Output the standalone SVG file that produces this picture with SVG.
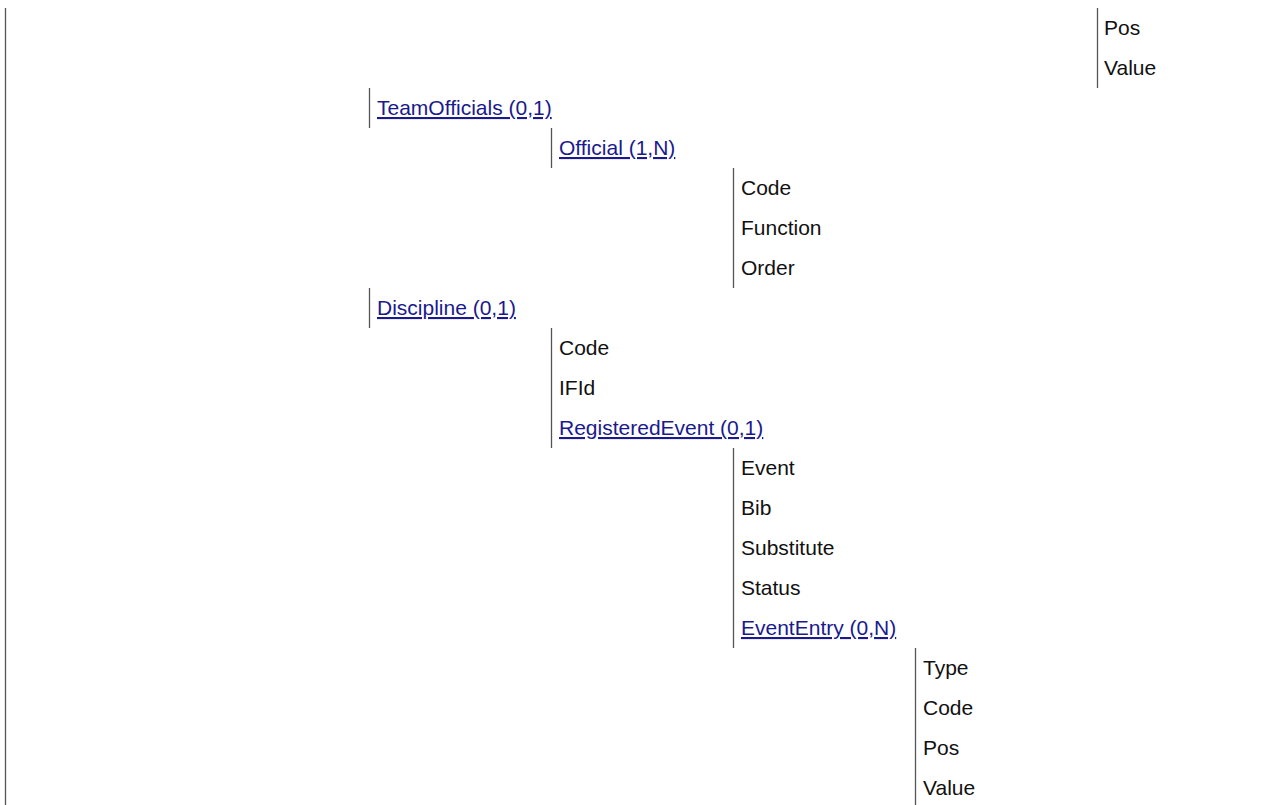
<svg xmlns="http://www.w3.org/2000/svg" width="1276" height="805" viewBox="0 0 1276 805">
<style>
  text { font-family: "Liberation Sans", Arial, sans-serif; font-size: 21px; fill: #111; }
  text.link { fill: #1a1a8e; text-decoration: underline; }
  line.bar { stroke: #555555; stroke-width: 1.3; }
</style>
<rect width="1276" height="805" fill="#ffffff"/>
<g id="connectors">
  <line class="bar" x1="5.5" y1="8" x2="5.5" y2="805"/>
  <line class="bar" x1="1097.5" y1="8" x2="1097.5" y2="88"/>
  <line class="bar" x1="369.5" y1="88" x2="369.5" y2="128"/>
  <line class="bar" x1="551.5" y1="128" x2="551.5" y2="168"/>
  <line class="bar" x1="733.5" y1="168" x2="733.5" y2="288"/>
  <line class="bar" x1="369.5" y1="288" x2="369.5" y2="328"/>
  <line class="bar" x1="551.5" y1="328" x2="551.5" y2="448"/>
  <line class="bar" x1="733.5" y1="448" x2="733.5" y2="648"/>
  <line class="bar" x1="915.5" y1="648" x2="915.5" y2="805"/>
</g>
<g id="n-pos-top"><text x="1104" y="35">Pos</text></g>
<g id="n-value-top"><text x="1104" y="75">Value</text></g>
<g id="n-teamofficials"><text class="link" x="377" y="115">TeamOfficials (0,1)</text></g>
<g id="n-official"><text class="link" x="559" y="155">Official (1,N)</text></g>
<g id="n-official-code"><text x="741" y="195">Code</text></g>
<g id="n-official-function"><text x="741" y="235">Function</text></g>
<g id="n-official-order"><text x="741" y="275">Order</text></g>
<g id="n-discipline"><text class="link" x="377" y="315">Discipline (0,1)</text></g>
<g id="n-discipline-code"><text x="559" y="355">Code</text></g>
<g id="n-discipline-ifid"><text x="559" y="395">IFId</text></g>
<g id="n-registeredevent"><text class="link" x="559" y="435">RegisteredEvent (0,1)</text></g>
<g id="n-event"><text x="741" y="475">Event</text></g>
<g id="n-bib"><text x="741" y="515">Bib</text></g>
<g id="n-substitute"><text x="741" y="555">Substitute</text></g>
<g id="n-status"><text x="741" y="595">Status</text></g>
<g id="n-evententry"><text class="link" x="741" y="635">EventEntry (0,N)</text></g>
<g id="n-ee-type"><text x="923" y="675">Type</text></g>
<g id="n-ee-code"><text x="923" y="715">Code</text></g>
<g id="n-ee-pos"><text x="923" y="755">Pos</text></g>
<g id="n-ee-value"><text x="923" y="795">Value</text></g>
</svg>
